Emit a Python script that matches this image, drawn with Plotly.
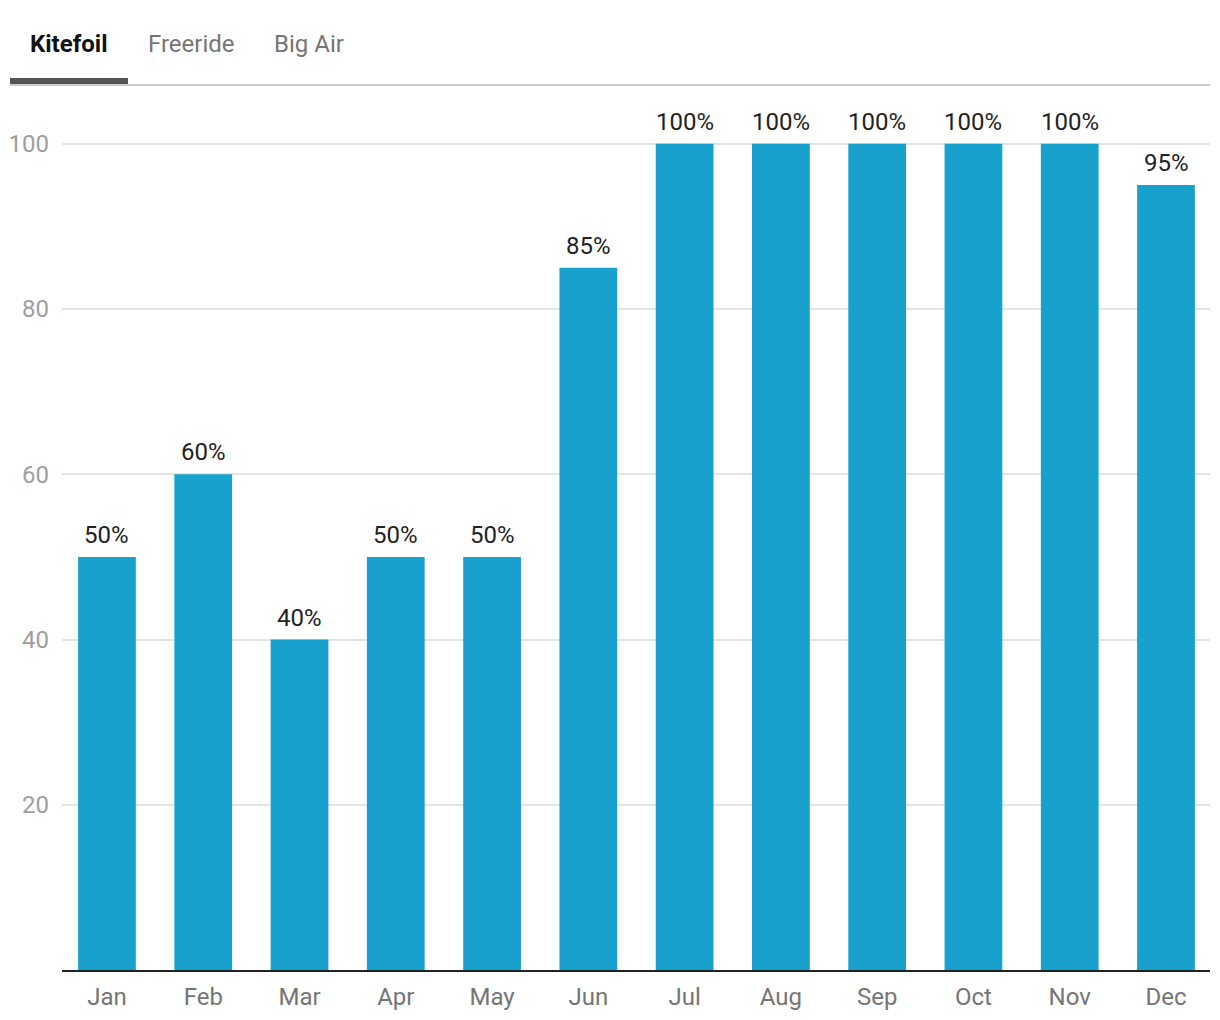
import plotly.graph_objects as go

months = ["Jan", "Feb", "Mar", "Apr", "May", "Jun", "Jul", "Aug", "Sep", "Oct", "Nov", "Dec"]
values = [50, 60, 40, 50, 50, 85, 100, 100, 100, 100, 100, 95]
labels = [f"{v}%" for v in values]
tabs = ["Kitefoil", "Freeride", "Big Air"]
y_ticks = [20, 40, 60, 80, 100]

W, H = 1220, 1020
ML, MR, MT, MB = 62, 10, 100, 50
PW, PH = W - ML - MR, H - MT - MB


def px(x):
    return (x - ML) / PW


def py(y):
    return 1 - (y - MT) / PH


xs = list(range(len(months)))

fig = go.Figure()
fig.add_trace(go.Bar(
    x=xs, y=values,
    marker=dict(color="#19a1cd", line=dict(width=0)),
    width=0.6, hoverinfo="skip",
))

annotations = []
for x, v, lab in zip(xs, values, labels):
    annotations.append(dict(
        text=lab, x=x, y=v, xref="x", yref="y", xanchor="center", yanchor="bottom",
        showarrow=False, yshift=6,
        font=dict(family="Roboto", size=24, color="#222222"),
    ))

tab_x = [69, 191, 309]
for i, (t, cx) in enumerate(zip(tabs, tab_x)):
    annotations.append(dict(
        text=f"<b>{t}</b>" if i == 0 else t, x=px(cx), y=py(44), xref="paper", yref="paper",
        xanchor="center", yanchor="middle", showarrow=False,
        font=dict(family="Roboto", size=24, color="#111111" if i == 0 else "#757575"),
    ))

shapes = [
    dict(type="line", xref="paper", yref="paper", x0=px(10), x1=px(1210), y0=py(85), y1=py(85),
         line=dict(color="#cccccc", width=2)),
    dict(type="rect", xref="paper", yref="paper", x0=px(10), x1=px(128), y0=py(84), y1=py(78),
         line=dict(width=0), fillcolor="#555555"),
]

fig.update_layout(
    width=W, height=H,
    margin=dict(l=ML, r=MR, t=MT, b=MB),
    paper_bgcolor="white", plot_bgcolor="white",
    showlegend=False,
    font=dict(family="Roboto"),
    annotations=annotations, shapes=shapes,
)
fig.update_xaxes(
    tickvals=xs, ticktext=months,
    range=[-0.467, 11.457], showgrid=False, zeroline=False,
    showline=True, linecolor="#222222", linewidth=2,
    tickfont=dict(family="Roboto", size=24, color="#757575"),
    ticks="", ticklabelstandoff=4,
)
fig.update_yaxes(
    range=[0, 105.3], tickvals=y_ticks, showgrid=True, gridcolor="#e3e3e3", gridwidth=1.5,
    zeroline=False, showline=False, ticks="",
    tickfont=dict(family="Roboto", size=24, color="#9e9e9e"),
    ticklabelstandoff=12,
)

fig.write_html("out.html", config={"displayModeBar": False},
               post_script="document.body.style.margin='0';")
